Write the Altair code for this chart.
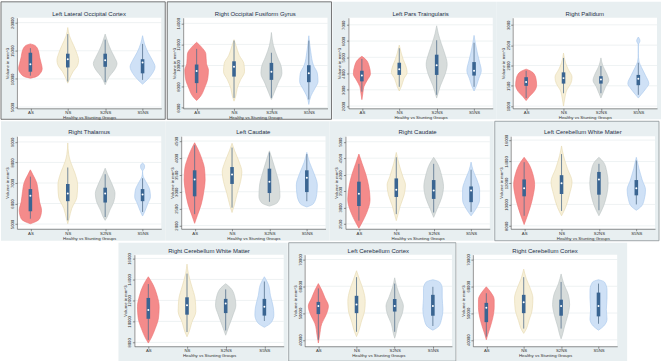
import json

import altair as alt
import pandas as pd

# ---------------------------------------------------------------- data
GROUPS = ["AS", "NS", "S2NS", "S5NS"]

TITLES = [
    "Left Lateral Occipital Cortex",
    "Right Occipital Fusiform Gyrus",
    "Left Pars Traingularis",
    "Right Pallidum",
    "Right Thalamus",
    "Left Caudate",
    "Right Caudate",
    "Left Cerebellum White Matter",
    "Right Cerebellum White Matter",
    "Left Cerebellum Cortex",
    "Right Cerebellum Cortex",
]

Y_TICKS = [
    [5000, 10000, 15000, 20000],
    [6000, 8000, 10000, 12000, 14000],
    [2000, 3000, 4000, 5000, 6000, 7000],
    [1000, 1500, 2000, 2500, 3000],
    [5000, 6000, 7000, 8000, 9000],
    [2000, 2500, 3000, 3500, 4000, 4500],
    [2500, 3000, 3500, 4000, 4500, 5000],
    [8000, 10000, 12000, 14000, 16000],
    [8000, 10000, 12000, 14000, 16000],
    [40000, 50000, 60000, 70000],
    [40000, 50000, 60000, 70000],
]

Y_DOMAINS = [
    [4770, 20870],
    [5940, 14530],
    [1860, 7435],
    [946, 3174],
    [4769, 9279],
    [1904, 4644],
    [2352, 5168],
    [7728, 16364],
    [7632, 16361],
    [37600, 71800],
    [37600, 71800],
]

# violin outlines: volume levels and the density half-width at each level
VIOLIN_VALUES = [
    [[16220, 15930, 15060, 13900, 12730, 11860, 10990, 10400, 10116],
     [19130, 17670, 15930, 14480, 13310, 12440, 11280, 10120, 9240],
     [17965, 16510, 15060, 13900, 12730, 11570, 10400, 8950],
     [17675, 16220, 14770, 13310, 12150, 10990, 9830, 9070]],
    [[12200, 11740, 11120, 10190, 9570, 8790, 7860, 7090, 6680],
     [12450, 11890, 10960, 10190, 9410, 8640, 7860, 7090, 6620],
     [13130, 11890, 10810, 9880, 9260, 8330, 7400, 6780],
     [12820, 11270, 10030, 9260, 8480, 7800, 7090, 6310]],
    [[5063, 4865, 4469, 3975, 3580, 3184, 2789, 2393],
     [5755, 5260, 4865, 4469, 4074, 3679, 3184, 2927],
     [6940, 6446, 5853, 5260, 4568, 3975, 3283, 2492],
     [6348, 5853, 5260, 4766, 4173, 3679, 3184, 2927]],
    [[1910, 1831, 1673, 1515, 1357, 1238, 1136],
     [2305, 2068, 1910, 1712, 1554, 1396, 1199, 1001],
     [2186, 1989, 1791, 1633, 1475, 1317, 1199],
     [2700, 2605, 2502, 2300, 2107, 1949, 1752, 1554, 1420, 1278, 1199]],
    [[7640, 7390, 7065, 6575, 6080, 5670, 5260, 5100, 5015],
     [8950, 8380, 8050, 7475, 6900, 6325, 5755, 5260, 5015],
     [7720, 7395, 6900, 6490, 6080, 5670, 5345, 5180],
     [7970, 7860, 7750, 7557, 7310, 7065, 6655, 6325, 6000, 5590, 5390]],
    [[4450, 4260, 3970, 3685, 3345, 3010, 2625, 2290, 2065],
     [4435, 4210, 3875, 3585, 3300, 2960, 2575, 2385],
     [4210, 3970, 3585, 3200, 2865, 2675, 2575],
     [4165, 3875, 3540, 3200, 2915, 2645, 2550]],
    [[4625, 4330, 3980, 3635, 3240, 2845, 2550, 2370],
     [4675, 4330, 3935, 3685, 3390, 3045, 2745, 2600],
     [4525, 4330, 3980, 3635, 3290, 2945, 2700],
     [4380, 4130, 3835, 3540, 3240, 2945, 2745]],
    [[14395, 13790, 12880, 11820, 10910, 9700, 8790, 8120],
     [15455, 14545, 13335, 12120, 10910, 9700, 8940],
     [14395, 13940, 13030, 11970, 10910, 9850, 8940],
     [14395, 13335, 12275, 11365, 10455, 9850, 9455]],
    [[14255, 13500, 12450, 11395, 10340, 9290, 8385, 7935],
     [15460, 14555, 13350, 12145, 10945, 9890, 8985, 8535],
     [13590, 13200, 12450, 11545, 10640, 9590, 8685],
     [14255, 13500, 12450, 11395, 10640, 9890, 9440]],
    [[61000, 58600, 55600, 52600, 49600, 46000, 41800, 38800],
     [65800, 62200, 58600, 54400, 50800, 46600, 43000, 41200],
     [63160, 59800, 56200, 52600, 49600, 46000, 42400, 40600],
     [62440, 61600, 59200, 55600, 51400, 47800, 45160, 43600]],
    [[59800, 58000, 55000, 52000, 48400, 44800, 41800, 40000],
     [66400, 62800, 59200, 55600, 51400, 47200, 43600, 42400],
     [64600, 61000, 56800, 53200, 49000, 44800, 41800, 40360],
     [62440, 61600, 58600, 55600, 51400, 47800, 45160, 43600]],
]

VIOLIN_WIDTHS = [
    [[0, 14, 24, 28, 33, 36, 30, 18, 0],
     [0, 5, 18, 28, 33, 30, 16, 6, 0],
     [0, 8, 18, 28, 36, 28, 12, 0],
     [0, 6, 16, 30, 38, 30, 14, 0]],
    [[0, 15, 28, 30, 36, 34, 24, 12, 0],
     [0, 6, 16, 30, 32, 20, 10, 5, 0],
     [0, 6, 18, 30, 32, 20, 8, 0],
     [0, 6, 14, 26, 28, 18, 6, 0]],
    [[0, 12, 22, 26, 16, 6, 3, 0],
     [0, 6, 12, 20, 24, 14, 6, 0],
     [0, 5, 14, 24, 32, 26, 12, 0],
     [0, 4, 10, 16, 22, 14, 6, 0]],
    [[0, 20, 30, 32, 24, 10, 0],
     [0, 6, 14, 26, 22, 10, 4, 0],
     [0, 6, 18, 24, 14, 6, 0],
     [0, 5, 0, 0, 2, 10, 22, 32, 22, 8, 0]],
    [[0, 8, 18, 24, 28, 34, 28, 14, 0],
     [0, 3, 8, 22, 30, 28, 12, 4, 0],
     [0, 8, 22, 30, 26, 14, 6, 0],
     [0, 6, 6, 0, 2, 10, 22, 24, 16, 6, 0]],
    [[0, 10, 22, 30, 32, 28, 20, 8, 0],
     [0, 8, 22, 30, 26, 16, 6, 0],
     [0, 8, 20, 30, 32, 24, 0],
     [0, 8, 22, 32, 30, 20, 0]],
    [[0, 10, 22, 30, 34, 24, 10, 0],
     [0, 8, 20, 28, 24, 12, 4, 0],
     [0, 12, 24, 30, 24, 10, 0],
     [0, 6, 18, 26, 26, 14, 0]],
    [[0, 14, 26, 32, 28, 18, 8, 0],
     [0, 6, 18, 32, 24, 12, 0],
     [0, 14, 24, 28, 24, 14, 0],
     [0, 8, 18, 28, 24, 16, 0]],
    [[0, 14, 26, 32, 30, 20, 8, 0],
     [0, 4, 14, 24, 26, 14, 6, 0],
     [0, 14, 26, 30, 22, 10, 0],
     [0, 12, 18, 26, 28, 20, 0]],
    [[0, 10, 20, 30, 24, 10, 4, 0],
     [0, 10, 20, 26, 24, 14, 6, 0],
     [0, 6, 16, 26, 22, 10, 4, 0],
     [0, 20, 28, 28, 30, 26, 18, 0]],
    [[0, 12, 24, 24, 20, 12, 4, 0],
     [0, 8, 20, 28, 26, 16, 6, 0],
     [0, 8, 22, 26, 20, 10, 4, 0],
     [0, 18, 26, 26, 24, 26, 16, 0]],
]

# box plot summaries per region, one value per group (AS, NS, S2NS, S5NS)
WHISKER_LO = [
    [10580, 9535, 9418, 9826],
    [7400, 6930, 6930, 6780],
    [2888, 3184, 2690, 3184],
    [1199, 1317, 1317, 1278],
    [5260, 5179, 5343, 5589],
    [2337, 2529, 2702, 2721],
    [2600, 2797, 2846, 2866],
    [8940, 9395, 9455, 10000],
    [8234, 8987, 9137, 10040],
    [40000, 43000, 43000, 45160],
    [41200, 44200, 44200, 46000],
]
BOX_Q1 = [
    [11280, 12035, 12150, 10990],
    [8330, 8950, 8640, 8420],
    [3520, 3916, 3916, 3876],
    [1499, 1554, 1554, 1515],
    [5622, 6114, 6048, 6114],
    [2865, 3231, 2962, 2990],
    [3044, 3320, 3261, 3162],
    [10758, 10970, 10909, 10849],
    [10250, 10642, 10793, 10552],
    [49600, 49960, 50560, 49000],
    [46600, 49960, 49000, 48760],
]
BOX_MEDIAN = [
    [12620, 13490, 13310, 12900],
    [9474, 9880, 9410, 9260],
    [3876, 4272, 4509, 4173],
    [1594, 1689, 1657, 1673],
    [6376, 6490, 6490, 6441],
    [3365, 3510, 3298, 3413],
    [3419, 3538, 3518, 3520],
    [11516, 11970, 12334, 11516],
    [11094, 11545, 11696, 11395],
    [52600, 53200, 52600, 52600],
    [52000, 54040, 52600, 52600],
]
BOX_Q3 = [
    [14650, 14480, 14480, 13500],
    [10094, 10400, 10250, 10030],
    [4173, 4667, 5161, 4707],
    [1712, 1831, 1736, 1768],
    [6704, 6950, 6770, 6704],
    [3635, 3731, 3683, 3635],
    [3785, 3884, 3834, 3640],
    [12334, 12728, 13031, 12273],
    [12238, 12298, 12147, 12147],
    [54160, 56440, 55240, 56800],
    [53800, 56800, 55000, 57640],
]
WHISKER_HI = [
    [15465, 17965, 16977, 16220],
    [11580, 12360, 11210, 12360],
    [4904, 5557, 6050, 5893],
    [1870, 2186, 1989, 2068],
    [7310, 7754, 7426, 7229],
    [4375, 4308, 4164, 4115],
    [4328, 4526, 4328, 4150],
    [13940, 14697, 13788, 14091],
    [13562, 14555, 13050, 13803],
    [59200, 63400, 61000, 59800],
    [57400, 63400, 61600, 61000],
]

# ---------------------------------------------------------------- style
FONT = "Liberation Sans"
FILLS = ["#f48b8b", "#f6efd8", "#d7dcdb", "#cfe1f6"]
STROKES = ["#ec6f6f", "#e6d9ae", "#bcc4c4", "#a8c8ec"]
PANEL_BG = "#e8eff1"
GRID = "#e2e9eb"
BOX = "#3a6592"
WHISKER = "#55708c"
AXIS = "#4a4a4a"
TITLE_COLOR = "#1f3048"
DENSITY_PER_GROUP = 114.0  # density units that span one group step
X_DOMAIN = [0.64, 4.5]

LABEL_EXPR = json.dumps(GROUPS) + "[datum.value - 1]"


def panel(i, width, height, margins, framed=None):
    left, top, right, bottom = margins
    rows = []
    for g, name in enumerate(GROUPS):
        for v, w in zip(VIOLIN_VALUES[i][g], VIOLIN_WIDTHS[i][g]):
            rows.append({"group": name, "pos": g + 1, "value": v,
                         "half": w / DENSITY_PER_GROUP})
    vdf = pd.DataFrame(rows)
    sdf = pd.DataFrame({
        "group": GROUPS, "pos": [1, 2, 3, 4],
        "lo": WHISKER_LO[i], "q1": BOX_Q1[i], "med": BOX_MEDIAN[i],
        "q3": BOX_Q3[i], "hi": WHISKER_HI[i],
    })
    tdf = pd.DataFrame({"tick": Y_TICKS[i]})
    one = pd.DataFrame({"k": [0]})

    xs = alt.Scale(domain=X_DOMAIN, nice=False, zero=False)
    ys = alt.Scale(domain=Y_DOMAINS[i], nice=False, zero=False)
    x_axis = alt.Axis(values=[1, 2, 3, 4], labelExpr=LABEL_EXPR,
                      title="Healthy vs Stunting Groups", grid=False,
                      zindex=1, tickSize=2, labelPadding=0.5, titlePadding=0.5,
                      labelFontSize=4.3, titleFontSize=4.4, labelFont=FONT,
                      titleFont=FONT, titleFontWeight="normal",
                      labelColor="#333333", titleColor="#333333",
                      domainColor=AXIS, tickColor=AXIS, domainWidth=0.6,
                      tickWidth=0.6)
    y_axis = alt.Axis(values=Y_TICKS[i], format="d", title="Volume in mm^3",
                      grid=False, zindex=1, tickSize=2, labelPadding=0.5,
                      titlePadding=0.5, labelAngle=270, labelAlign="center",
                      labelBaseline="bottom", labelFontSize=4.2,
                      titleFontSize=4.3, labelFont=FONT, titleFont=FONT,
                      titleFontWeight="normal", labelColor="#333333",
                      titleColor="#333333", domainColor=AXIS, tickColor=AXIS,
                      domainWidth=0.6, tickWidth=0.6)

    frame = alt.Chart(one).mark_rect(
        fill=PANEL_BG,
        stroke=framed if framed else PANEL_BG,
        strokeWidth=0.8 if framed else 0,
    ).encode(x=alt.value(-left), x2=alt.value(width + right),
             y=alt.value(-top), y2=alt.value(height + bottom))
    plot_fill = alt.Chart(one).mark_rect(fill="white").encode(
        x=alt.value(0), x2=alt.value(width), y=alt.value(0), y2=alt.value(height))
    title = alt.Chart(one).mark_text(
        font=FONT, fontSize=6, color=TITLE_COLOR, baseline="alphabetic",
        align="center").encode(
        x=alt.value(width / 2), y=alt.value(-2), text=alt.value(TITLES[i]))
    grid = alt.Chart(tdf).mark_rule(color=GRID, strokeWidth=0.6).encode(
        y=alt.Y("tick:Q", scale=ys, axis=y_axis),
        x=alt.value(0), x2=alt.value(width))
    violins = alt.Chart(vdf).transform_calculate(
        lo_x="datum.pos - datum.half", hi_x="datum.pos + datum.half"
    ).mark_area(orient="horizontal", interpolate="monotone",
                strokeWidth=0.6).encode(
        y=alt.Y("value:Q", scale=ys, axis=y_axis),
        x=alt.X("lo_x:Q", scale=xs, axis=x_axis, stack=None),
        x2="hi_x:Q",
        fill=alt.Fill("group:N", scale=alt.Scale(domain=GROUPS, range=FILLS),
                      legend=None),
        stroke=alt.Stroke("group:N",
                          scale=alt.Scale(domain=GROUPS, range=STROKES),
                          legend=None),
    )
    whiskers = alt.Chart(sdf).mark_rule(color=WHISKER, strokeWidth=0.8).encode(
        x=alt.X("pos:Q", scale=xs, axis=x_axis),
        y=alt.Y("lo:Q", scale=ys, axis=y_axis), y2="hi:Q")
    boxes = alt.Chart(sdf).mark_rule(color=BOX, strokeWidth=3.6).encode(
        x=alt.X("pos:Q", scale=xs, axis=x_axis),
        y=alt.Y("q1:Q", scale=ys, axis=y_axis), y2="q3:Q")
    medians = alt.Chart(sdf).mark_point(
        filled=True, color="white", opacity=1, size=4).encode(
        x=alt.X("pos:Q", scale=xs, axis=x_axis),
        y=alt.Y("med:Q", scale=ys, axis=y_axis))

    return alt.layer(frame, plot_fill, title, grid, violins, whiskers, boxes,
                     medians).properties(width=width, height=height)


def row(charts):
    return alt.hconcat(*charts, spacing=0).resolve_scale(
        x="independent", y="independent")


M1 = (16, 16, 4, 11)
M2 = (16, 15, 4, 12)
M3 = (16, 12, 4, 15)
DARK_EDGE = "#555555"
SOFT_EDGE = "#8a9296"

row1 = row([panel(0, 145, 91, M1, framed=DARK_EDGE),
            panel(1, 145, 91, M1, framed=DARK_EDGE),
            panel(2, 145, 91, M1),
            panel(3, 145, 91, M1)])
row2 = row([panel(4, 145, 93, M2),
            panel(5, 145, 93, M2),
            panel(6, 145, 93, M2),
            panel(7, 145, 93, M2, framed=SOFT_EDGE)])

spacer = alt.Chart(pd.DataFrame({"k": [0]})).mark_point(opacity=0).encode(
    x=alt.X("k:Q", axis=None), y=alt.Y("k:Q", axis=None)
).properties(width=102, height=10)
row3 = row([spacer,
            panel(8, 150, 92, M3),
            panel(9, 148, 92, M3, framed=SOFT_EDGE),
            panel(10, 145, 92, (16, 12, 10, 15))])

chart = alt.vconcat(row1, row2, row3, spacing=0).resolve_scale(
    x="independent", y="independent"
).properties(padding=0).configure(background="white").configure_view(
    stroke=None)

chart.save("out.html", embed_options={"renderer": "svg", "actions": False})
